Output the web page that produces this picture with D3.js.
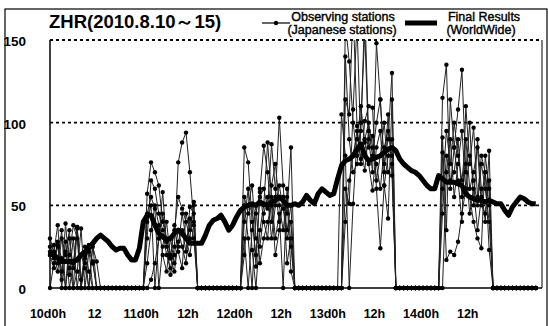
<!DOCTYPE html>
<html>
<head>
<meta charset="utf-8">
<script src="https://cdn.jsdelivr.net/npm/d3@7"></script>
<style>
  body { margin: 0; background: #fff; }
  svg { display: block; font-family: "Liberation Sans", Arial, sans-serif; }
</style>
</head>
<body>
<svg id="chart" width="548" height="326"></svg>
<script>
// hour ticks (hours from 10d0h) and their labels
const tickHours = [0, 12, 24, 36, 48, 60, 72, 84, 96, 108];
const tickLabels = ["10d0h", "12", "11d0h", "12h", "12d0h", "12h", "13d0h", "12h", "14d0h", "12h"];
const yTicks = [0, 50, 100, 150];

// Final Results (WorldWide), hourly
const finalResults = [
  21,20,18,16,16,16,16,17,20,22,
  24,27,30,32,30,28,25,23,24,24,
  20,17,17,24,40,44,44,38,33,31,
  29,30,33,35,33,30,27,27,27,27,
  32,38,41,42,44,40,35,38,43,47,
  49,50,51,50,52,51,50,52,53,55,
  53,50,50,51,50,52,56,53,51,57,
  60,58,56,57,66,74,77,78,80,84,
  87,80,77,78,79,80,82,84,85,83,
  78,75,73,71,70,68,65,62,60,60,
  68,66,64,64,64,63,62,57,55,54,
  53,53,52,53,52,51,51,47,44,49,
  52,55,54,52,51,51
];

// Observing stations (Japanese stations), hourly, 0 in daytime
const station1 = [
  30,22,38,5,39,12,0,37,0,25,10,0,0,0,
  0,0,0,0,0,0,0,0,0,0,
  0,57,76,70,62,40,30,20,35,55,48,40,30,52,0,
  0,0,0,0,0,0,0,0,0,0,
  0,85,76,40,20,55,60,48,87,60,40,55,45,85,0,
  0,0,0,0,0,0,0,0,0,0,0,
  0,160,137,100,80,95,170,90,70,148,114,75,90,130,0,
  0,0,0,0,0,0,0,0,0,0,
  0,115,135,60,85,108,132,70,100,50,90,60,40,83,0,
  0,0,0,0,0,0,0,0,0,0,0
];
const station2 = [
  20,26,15,35,0,20,38,30,0,18,26,15,0,0,
  0,0,0,0,0,0,0,0,0,0,
  0,45,55,48,0,25,40,18,10,28,35,22,49,45,0,
  0,0,0,0,0,0,0,0,0,0,
  0,50,30,0,45,58,86,70,40,55,103,62,30,40,0,
  0,0,0,0,0,0,0,0,0,0,0,
  0,114,105,170,98,75,101,110,109,60,24,62,42,114,0,
  0,0,0,0,0,0,0,0,0,0,
  0,91,35,114,85,65,40,110,75,97,55,80,70,23,0,
  0,0,0,0,0,0,0,0,0,0,0
];
const station3 = [
  22,18,25,10,28,0,15,37,5,20,0,27,0,0,
  0,0,0,0,0,0,0,0,0,0,
  0,30,65,60,45,35,20,12,25,76,88,94,70,40,0,
  0,0,0,0,0,0,0,0,0,0,
  0,40,60,23,0,35,50,88,55,30,45,0,60,25,0,
  0,0,0,0,0,0,0,0,0,0,0,
  0,60,51,108,160,85,71,95,80,100,114,70,105,68,0,
  0,0,0,0,0,0,0,0,0,0,
  0,82,17,22,20,28,45,60,55,40,30,24,80,60,0,
  0,0,0,0,0,0,0,0,0,0,0
];
const station4 = [
  25,20,10,30,20,35,0,10,36,0,22,16,0,0,
  0,0,0,0,0,0,0,0,0,0,
  0,40,50,0,30,58,25,18,38,22,12,45,35,50,0,
  0,0,0,0,0,0,0,0,0,0,
  0,55,45,50,13,60,40,30,62,75,50,35,55,10,0,
  0,0,0,0,0,0,0,0,0,0,0,
  105,80,0,51,90,110,88,75,59,85,95,62,80,90,0,
  0,0,0,0,0,0,0,0,0,0,
  0,60,95,75,100,80,65,90,60,70,85,50,45,65,0,
  0,0,0,0,0,0,0,0,0,0,0
];
const station5 = [
  0,15,28,0,22,8,30,0,20,12,0,25,16,0,
  0,0,0,0,0,0,0,0,0,0,
  0,15,35,50,38,20,10,30,15,25,45,30,20,38,0,
  0,0,0,0,0,0,0,0,0,0,
  0,20,50,62,30,25,45,55,30,50,62,48,35,50,0,
  0,0,0,0,0,0,0,0,0,0,0,
  0,140,90,70,75,100,155,85,92,65,80,100,70,75,0,
  0,0,0,0,0,0,0,0,0,0,
  0,0,70,90,55,75,95,60,80,65,50,75,60,40,0,
  0,0,0,0,0,0,0,0,0,0,0
];
const station6 = [
  20,12,26,18,0,30,12,36,0,15,24,0,0,0,
  0,0,0,0,0,0,0,0,0,0,
  0,0,5,15,30,45,28,8,20,35,25,15,42,30,0,
  0,0,0,0,0,0,0,0,0,0,
  0,30,0,35,50,15,30,40,50,20,35,55,15,30,0,
  0,0,0,0,0,0,0,0,0,0,0,
  0,40,65,80,95,78,90,100,85,75,60,85,95,80,0,
  0,0,0,0,0,0,0,0,0,0,
  0,45,80,65,70,90,55,75,45,60,35,55,70,50,0,
  0,0,0,0,0,0,0,0,0,0,0
];
const stations = [station1, station2, station3, station4, station5, station6];

const svg = d3.select("#chart");
const plotLeft = 50, plotRight = 542, plotTop = 40, plotBottom = 288;

const x = d3.scaleLinear().domain([0, 126.6]).range([plotLeft, plotRight]);
const y = d3.scaleLinear().domain([0, 150]).range([plotBottom, plotTop]);

// outer frame
svg.append("rect")
  .attr("x", 5).attr("y", 9).attr("width", 542).attr("height", 330)
  .attr("fill", "none").attr("stroke", "#000").attr("stroke-width", 1.2);

// dashed grid lines
svg.append("g")
  .selectAll("line")
  .data(yTicks.filter(d => d > 0))
  .enter().append("line")
  .attr("x1", plotLeft).attr("x2", plotRight)
  .attr("y1", d => y(d)).attr("y2", d => y(d))
  .attr("stroke", "#000")
  .attr("stroke-width", 1.8)
  .attr("stroke-dasharray", "3,3");

// right border
svg.append("line")
  .attr("x1", plotRight).attr("x2", plotRight).attr("y1", plotTop).attr("y2", plotBottom)
  .attr("stroke", "#000").attr("stroke-width", 1);

// clip
svg.append("clipPath").attr("id", "plot")
  .append("rect").attr("x", plotLeft - 3).attr("y", plotTop)
  .attr("width", plotRight - plotLeft + 3).attr("height", plotBottom - plotTop + 4);

const plot = svg.append("g").attr("clip-path", "url(#plot)");

// station lines
const line = d3.line()
  .x((d, i) => x(i))
  .y(d => y(d));

stations.forEach(s => {
  plot.append("path")
    .datum(s)
    .attr("d", line)
    .attr("fill", "none")
    .attr("stroke", "#222")
    .attr("stroke-width", 1);
});
stations.forEach(s => {
  plot.append("g")
    .selectAll("circle")
    .data(s)
    .enter().append("circle")
    .attr("cx", (d, i) => x(i))
    .attr("cy", d => y(d))
    .attr("r", 2.2)
    .attr("fill", "#000");
});

// final results thick line
plot.append("path")
  .datum(finalResults)
  .attr("d", line)
  .attr("fill", "none")
  .attr("stroke", "#000")
  .attr("stroke-width", 5)
  .attr("stroke-linejoin", "round");

// axes
svg.append("line")
  .attr("x1", plotLeft).attr("x2", plotLeft).attr("y1", plotTop).attr("y2", plotBottom)
  .attr("stroke", "#000").attr("stroke-width", 1.5);
svg.append("line")
  .attr("x1", plotLeft).attr("x2", plotRight).attr("y1", plotBottom).attr("y2", plotBottom)
  .attr("stroke", "#000").attr("stroke-width", 1.5);

// y labels
svg.append("g")
  .selectAll("text")
  .data(yTicks)
  .enter().append("text")
  .attr("x", 26)
  .attr("y", d => y(d) + 6)
  .attr("text-anchor", "end")
  .style("font-size", "13.5px")
  .style("font-weight", "bold")
  .text(d => d);

// x labels
svg.append("g")
  .selectAll("text")
  .data(tickHours)
  .enter().append("text")
  .attr("x", d => x(d) - 2)
  .attr("y", 318)
  .attr("text-anchor", "middle")
  .style("font-size", "12.5px")
  .style("font-weight", "bold")
  .text((d, i) => tickLabels[i]);

// title
svg.append("text")
  .attr("x", 49).attr("y", 28)
  .style("font-size", "18.5px")
  .style("font-weight", "bold")
  .text("ZHR(2010.8.10～15)");

// legend
const lg = svg.append("g").style("font-size", "12.5px");
lg.append("line").attr("x1", 262).attr("x2", 290).attr("y1", 23).attr("y2", 23)
  .attr("stroke", "#000").attr("stroke-width", 1.2);
lg.append("circle").attr("cx", 276).attr("cy", 23).attr("r", 2.2).attr("fill", "#000");
lg.append("text").attr("x", 343).attr("y", 21).attr("text-anchor", "middle").text("Observing stations");
lg.append("text").attr("x", 342).attr("y", 34).attr("text-anchor", "middle").text("(Japanese stations)");
lg.append("line").attr("x1", 405).attr("x2", 437).attr("y1", 23).attr("y2", 23)
  .attr("stroke", "#000").attr("stroke-width", 5);
lg.append("text").attr("x", 484).attr("y", 21).attr("text-anchor", "middle").text("Final Results");
lg.append("text").attr("x", 481).attr("y", 34).attr("text-anchor", "middle").text("(WorldWide)");
lg.selectAll("text").attr("stroke", "#000").attr("stroke-width", 0.4);
</script>
</body>
</html>
